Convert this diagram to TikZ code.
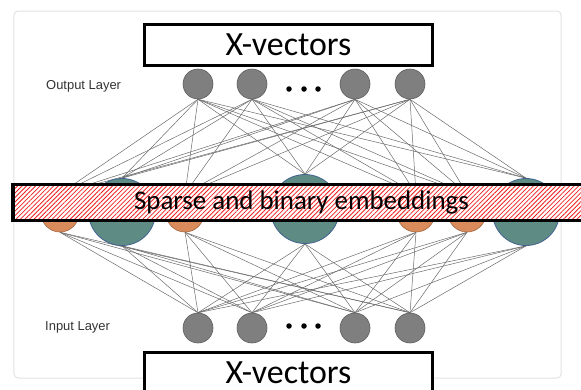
\documentclass[tikz,border=0pt]{standalone}
\usepackage{fontspec}
\setmainfont{Carlito}
\newfontfamily\labelfont{Liberation Sans}
\usetikzlibrary{patterns.meta,backgrounds}
\definecolor{nodegray}{HTML}{7F7F7F}
\definecolor{nodegrayb}{HTML}{5E5E5E}
\definecolor{tealfill}{HTML}{5E8C84}
\definecolor{tealline}{HTML}{41628F}
\definecolor{orangefill}{HTML}{D98B5B}
\definecolor{orangeline}{HTML}{A2673F}
\definecolor{framegray}{HTML}{E2E2E2}
\definecolor{labelgray}{HTML}{333333}
\definecolor{conngray}{HTML}{6A6A6A}
\definecolor{stripered}{HTML}{F02020}
\begin{document}
\begin{tikzpicture}[x=1bp,y=-1bp,
  conn/.style={draw=conngray, line width=0.5bp},
  grayball/.style={circle, inner sep=0pt, minimum size=30bp, fill=nodegray, draw=nodegrayb, line width=0.6bp},
  tealball/.style={circle, inner sep=0pt, minimum size=67bp, fill=tealfill, draw=tealline, line width=0.8bp},
  orangeball/.style={circle, inner sep=0pt, minimum size=38bp, fill=orangefill, draw=orangeline, line width=0.6bp},
  dotball/.style={circle, inner sep=0pt, minimum size=5.5bp, fill=black},
  layerlabel/.style={font=\labelfont\fontsize{13}{15}\selectfont, text=labelgray, inner sep=0pt, anchor=west},
  xbox/.style={draw=black, line width=3.5bp, fill=white, minimum width=288bp, minimum height=41bp, inner sep=0pt, font=\fontsize{34}{38}\selectfont},
  bandbox/.style={draw=black, line width=3.5bp, preaction={fill=white}, pattern={Lines[angle=45,distance=3.2bp,line width=0.8bp]}, pattern color=stripered, minimum width=577bp, minimum height=36bp, inner sep=0pt, font=\fontsize{27}{30}\selectfont}
]
\useasboundingbox (0,0) rectangle (581,389);
\clip (0,0) rectangle (581,389);

% output layer
\node[grayball] (o1) at (198,84) {};
\node[grayball] (o2) at (252,84) {};
\node[grayball] (o3) at (355,84) {};
\node[grayball] (o4) at (410,84) {};
\node[dotball] (od1) at (289,89) {};
\node[dotball] (od2) at (304,89) {};
\node[dotball] (od3) at (318,89) {};
\node[layerlabel] (outlabel) at (46,86) {Output Layer};

% input layer
\node[grayball] (i1) at (198,328) {};
\node[grayball] (i2) at (252,328) {};
\node[grayball] (i3) at (355,328) {};
\node[grayball] (i4) at (410,328) {};
\node[dotball] (id1) at (289,326) {};
\node[dotball] (id2) at (304,326) {};
\node[dotball] (id3) at (318,326) {};
\node[layerlabel] (inlabel) at (45,327) {Input Layer};

% hidden layer
\node[orangeball] (h1) at (60,213) {};
\node[tealball] (h2) at (122,212) {};
\node[orangeball] (h3) at (185,213) {};
\node[tealball, minimum size=69bp] (h4) at (305,209) {};
\node[orangeball] (h5) at (416,213) {};
\node[orangeball] (h6) at (467,213) {};
\node[tealball] (h7) at (526,212) {};

\begin{pgfonlayer}{background}
  \node[draw=framegray, line width=1bp, rounded corners=4bp, minimum width=547bp, minimum height=367bp, inner sep=0pt] (frame) at (287.5,194.5) {};
  \foreach \a in {1,2,3,4}{
    \foreach \b in {1,...,7}{
      \draw[conn] (o\a.south) -- (h\b.north);
      \draw[conn] (h\b.south) -- (i\a.north);
    }
  }
\end{pgfonlayer}

% embeddings band
\node[bandbox] (band) at (301.5,202.5) {Sparse and binary embeddings};

% x-vector boxes
\node[xbox] (topbox) at (288.5,45) {X-vectors};
\node[xbox] (botbox) at (288.5,373) {X-vectors};
\end{tikzpicture}
\end{document}
